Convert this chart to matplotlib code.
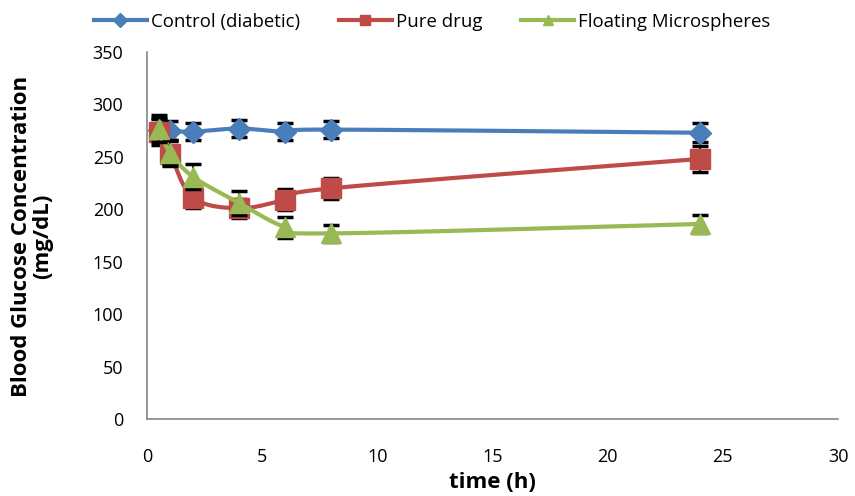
import numpy as np
import matplotlib
matplotlib.use("Agg")
import matplotlib.pyplot as plt
from matplotlib.lines import Line2D

time_h = [0.5, 1, 2, 4, 6, 8, 24]
control = [276, 275, 274, 277, 274, 276, 273]
control_err = [10, 9, 8, 8, 8, 8, 9]
pure = [274, 253, 211, 201, 209, 220, 248]
pure_err = [13, 12, 10, 9, 10, 10, 12]
floating = [277, 254, 231, 206, 183, 177, 186]
floating_err = [13, 12, 12, 11, 10, 8, 9]

series_names = ["Control (diabetic)", "Pure drug", "Floating Microspheres"]
colors = ["#4a7ebb", "#be4b48", "#98b954"]
markers = ["D", "s", "^"]
msizes = [11, 14, 15]

plt.rcParams['font.family'] = ['Open Sans', 'DejaVu Sans']


def smooth(x, y, n=30):
    # Catmull-Rom style smoothing similar to spreadsheet "smoothed line"
    x = np.asarray(x, float); y = np.asarray(y, float)
    px = np.concatenate([[x[0]], x, [x[-1]]])
    py = np.concatenate([[y[0]], y, [y[-1]]])
    xs, ys = [], []
    t = np.linspace(0, 1, n)
    for i in range(1, len(px) - 2):
        p0 = np.array([px[i - 1], py[i - 1]]); p1 = np.array([px[i], py[i]])
        p2 = np.array([px[i + 1], py[i + 1]]); p3 = np.array([px[i + 2], py[i + 2]])
        c1 = p1 + (p2 - p0) / 6.0
        c2 = p2 - (p3 - p1) / 6.0
        b = ((1 - t) ** 3)[:, None] * p1 + (3 * (1 - t) ** 2 * t)[:, None] * c1 + \
            (3 * (1 - t) * t ** 2)[:, None] * c2 + (t ** 3)[:, None] * p2
        xs.extend(b[:, 0]); ys.extend(b[:, 1])
    return np.array(xs), np.array(ys)


W, H = 855, 496
fig = plt.figure(figsize=(W / 100, H / 100), dpi=100)
ax = fig.add_axes([147 / W, 1 - 419 / H, (838 - 147) / W, (419 - 52) / H])

data = [(control, control_err), (pure, pure_err), (floating, floating_err)]
handles = []
for i, ((vals, errs), c, m, ms, name) in enumerate(zip(data, colors, markers, msizes, series_names)):
    z = 2 + 3 * i
    sx, sy = smooth(time_h, vals)
    ax.plot(sx, sy, color=c, lw=3, zorder=z, solid_capstyle='round')
    ax.errorbar(time_h, vals, yerr=errs, fmt='none', ecolor='black', elinewidth=1.2,
                capsize=6, capthick=2.5, zorder=z + 1)
    ax.plot(time_h, vals, linestyle='none', marker=m, markersize=ms, color=c,
            markeredgecolor=c, zorder=z + 2)
    handles.append(Line2D([0], [0], color=c, lw=3, marker=m, markersize=7,
                          markeredgecolor=c, label=name))

ax.set_xlim(0, 30)
ax.set_ylim(0, 350)
ax.set_xticks(range(0, 31, 5))
ax.set_yticks(range(0, 351, 50))
ax.tick_params(axis='both', length=0, labelsize=13)
ax.tick_params(axis='y', pad=17)
ax.tick_params(axis='x', pad=21)
for s in ['top', 'right']:
    ax.spines[s].set_visible(False)
for s in ['left', 'bottom']:
    ax.spines[s].set_color('#868686')
    ax.spines[s].set_linewidth(1.2)

fig.text(492 / W, 1 - 483 / H, "time (h)", fontsize=16, fontweight='bold',
         ha='center', va='center')
fig.text(32 / W, 1 - 236 / H, "Blood Glucose Concentration\n(mg/dL)", fontsize=16,
         fontweight='bold', rotation=90, ha='center', va='center',
         multialignment='center', linespacing=1.05)

fig.legend(handles=handles, loc='center', bbox_to_anchor=(432 / W, 1 - 22 / H),
           ncol=3, frameon=False, fontsize=13.4, handlelength=2.85, columnspacing=2.1,
           handletextpad=0.2)

fig.savefig("out.png", dpi=100)
